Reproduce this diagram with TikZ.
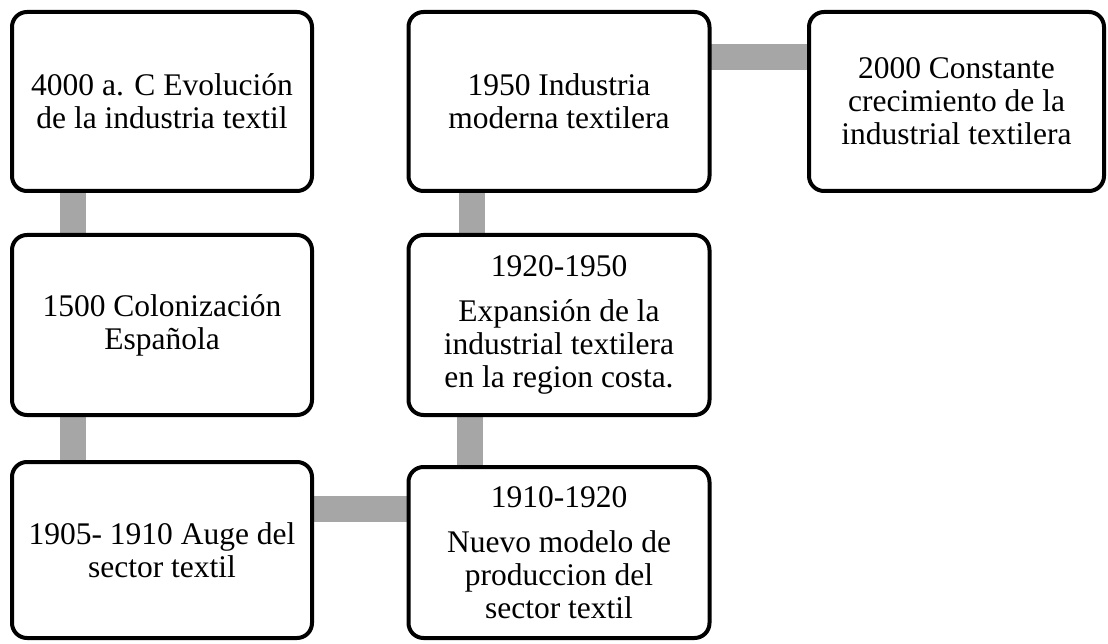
\documentclass[tikz,border=0pt]{standalone}
\usepackage{fontspec}
\setmainfont{Liberation Serif}
\usetikzlibrary{backgrounds}
\definecolor{conngray}{HTML}{A6A6A6}
\tikzset{
  box/.style={draw=black, line width=4pt, fill=white, rounded corners=15pt,
    inner sep=0pt, outer sep=0pt, align=center, minimum width=300pt,
    font=\fontsize{31.5}{33}\selectfont},
  conn/.style={draw=conngray, line width=26pt}
}
\begin{document}
\begin{tikzpicture}[x=1pt,y=-1pt]
\useasboundingbox (0,0) rectangle (1108,644);
\node[box, minimum height=179pt] (b1) at (162,101.5) {4000 a. C Evolución\\de la industria textil};
\node[box, minimum height=180pt] (b2) at (162,325) {1500 Colonización\\Española};
\node[box, minimum height=176pt] (b3) at (162,550) {1905- 1910 Auge del\\sector textil};
\node[box, minimum height=171pt, minimum width=301pt] (b4) at (559,552.5) {1910-1920\\[12pt]Nuevo modelo de\\produccion del\\sector textil};
\node[box, minimum height=180pt, minimum width=301pt] (b5) at (559,325) {1920-1950\\[12pt]Expansión de la\\industrial textilera\\en la region costa.};
\node[box, minimum height=179pt, minimum width=301pt] (b6) at (559,101.5) {1950 Industria\\moderna textilera};
\node[box, minimum height=179pt, minimum width=295pt] (b7) at (956.5,101.5) {2000 Constante\\crecimiento de la\\industrial textilera};
\begin{scope}[on background layer]
\draw[conn] ([xshift=61pt]b1.south west) -- ([xshift=61pt]b1.south west |- b2.north);
\draw[conn] ([xshift=61pt]b2.south west) -- ([xshift=61pt]b2.south west |- b3.north);
\draw[conn] ([yshift=-47pt]b3.north east) -- ([yshift=-47pt]b3.north east -| b4.west);
\draw[conn] ([xshift=61pt]b5.south west) -- ([xshift=61pt]b5.south west |- b4.north);
\draw[conn] ([xshift=63pt]b6.south west) -- ([xshift=63pt]b6.south west |- b5.north);
\draw[conn] ([yshift=-45pt]b6.north east) -- ([yshift=-45pt]b6.north east -| b7.west);
\end{scope}
\end{tikzpicture}
\end{document}
